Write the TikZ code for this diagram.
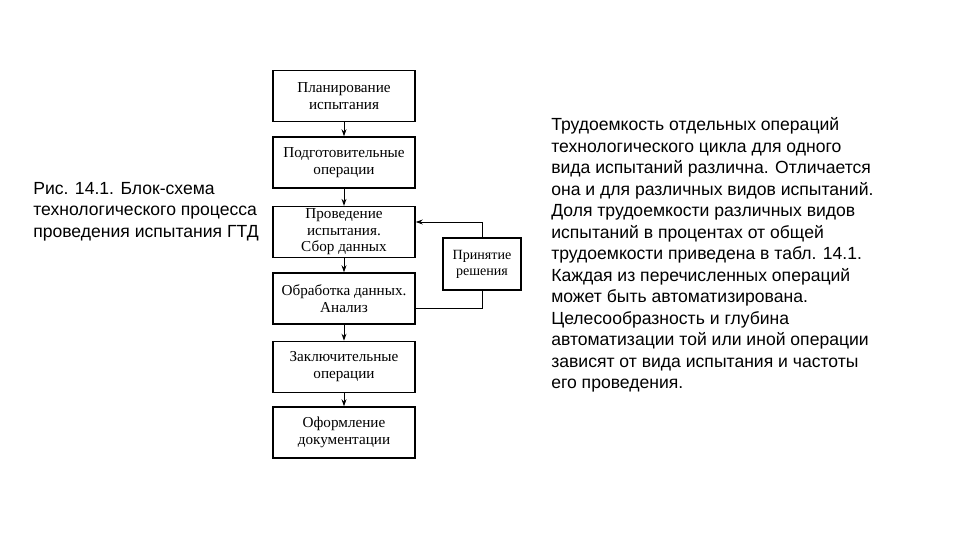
\documentclass[tikz,border=0pt]{standalone}
\usepackage{fontspec}
\setmainfont{Liberation Serif}
\newfontfamily\sidefont{Liberation Sans}
\usetikzlibrary{arrows.meta}

\tikzset{
  stage/.style={draw, line width=1pt, minimum width=3.55cm, minimum height=1.27cm,
    align=center, inner sep=1pt, font=\fontsize{10.8}{11.8}\selectfont},
  decide/.style={stage, minimum width=1.95cm, minimum height=1.3cm,
    font=\fontsize{10}{11.4}\selectfont},
  flow/.style={-{Stealth[length=5pt,width=3.5pt]}, line width=0.7pt},
  sidetext/.style={anchor=north west, align=left, inner sep=0pt,
    font=\sidefont\fontsize{12.5}{15.3}\selectfont}
}

\begin{document}
\begin{tikzpicture}[scale=1.0]

    \useasboundingbox (0,0) rectangle (24,13.5);

    % --- Blokk-sema ---
    \node[stage] (plan) at (8.6,11.1) {Планирование\\испытания};
    \node[stage] (prep) at (8.6,9.44) {Подготовительные\\операции};
    \node[stage] (test) at (8.6,7.7) {Проведение\\испытания.\\Сбор данных};
    \node[stage] (proc) at (8.6,6.04) {Обработка данных.\\Анализ};
    \node[stage] (final) at (8.6,4.33) {Заключительные\\операции};
    \node[stage] (docs) at (8.6,2.69) {Оформление\\документации};

    \node[decide] (decision) at (12.05,6.9) {Принятие\\решения};

    % --- Nyilak ---
    \draw[flow] (plan) -- (prep);
    \draw[flow] (prep) -- (test);
    \draw[flow] (test) -- (proc);
    \draw[flow] (proc) -- (final);
    \draw[flow] (final) -- (docs);

    % visszacsatolas
    \draw[line width=0.7pt] ([yshift=-0.24cm]proc.east) -| (decision.south);
    \draw[flow] (decision.north) |- ([yshift=0.25cm]test.east);

    % --- Feliratok ---
    \node[sidetext] (caption) at (0.825,8.95) {Рис. 14.1. Блок-схема\\
        технологического процесса\\
        проведения испытания ГТД};

    \node[sidetext] (note) at (13.775,10.57) {Трудоемкость отдельных операций\\
        технологического цикла для одного\\
        вида испытаний различна. Отличается\\
        она и для различных видов испытаний.\\
        Доля трудоемкости различных видов\\
        испытаний в процентах от общей\\
        трудоемкости приведена в табл. 14.1.\\
        Каждая из перечисленных операций\\
        может быть автоматизирована.\\
        Целесообразность и глубина\\
        автоматизации той или иной операции\\
        зависят от вида испытания и частоты\\
        его проведения.};

\end{tikzpicture}
\end{document}
